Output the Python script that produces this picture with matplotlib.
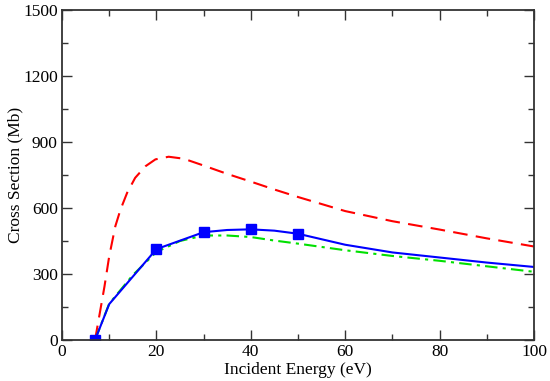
import matplotlib
matplotlib.use("Agg")
import matplotlib.pyplot as plt
from matplotlib.ticker import MultipleLocator

# -------------------------
# Data
# -------------------------
e_blue = [7, 10, 20, 30, 35, 40, 45, 50, 60, 70, 80, 90, 100]
xs_blue = [0, 163, 413, 490, 500, 503, 497, 483, 433, 398, 375, 352, 332]

e_marks = [7, 20, 30, 40, 50]
xs_marks = [0, 413, 490, 503, 483]

e_red = [7, 8, 9, 10, 11.3, 12.4, 13.8, 15.5, 17.7, 19.8, 22.6, 25.8, 30,
         35, 40, 45, 50, 60, 70, 80, 90, 100]
xs_red = [0, 121, 243, 380, 517, 593, 669, 737, 790, 821, 833, 824, 793,
          755, 720, 684, 650, 586, 540, 502, 462, 425]

e_green = [7, 10, 15, 20, 25, 30, 35, 40, 45, 50, 60, 70, 80, 90, 100]
xs_green = [0, 165, 295, 400, 450, 475, 475, 468, 452, 438, 408, 382, 360,
            335, 310]

plt.rcParams['font.family'] = ['Liberation Serif', 'DejaVu Serif']

fig = plt.figure(figsize=(5.5, 3.81), dpi=100)
ax = fig.add_axes([0.1127, 0.1076, 0.8582, 0.8662])

ax.plot(e_red, xs_red, color="#ff0000", lw=1.5, dashes=(7, 4))
ax.plot(e_green, xs_green, color="#00e000", lw=1.5, dashes=(6, 2.5, 1.5, 2.5))
ax.plot(e_blue, xs_blue, color="#0000ff", lw=1.5)
ax.plot(e_marks, xs_marks, ls="none", marker="s", ms=6.5, color="#0000ff")

ax.set_xlim(0, 100)
ax.set_ylim(0, 1500)
ax.xaxis.set_major_locator(MultipleLocator(20))
ax.xaxis.set_minor_locator(MultipleLocator(10))
ax.yaxis.set_major_locator(MultipleLocator(300))
ax.yaxis.set_minor_locator(MultipleLocator(150))
ax.tick_params(which="both", direction="in", top=True, right=True,
               labelsize=12.5, width=1, color="#333333", pad=3)
ax.tick_params(which="major", length=7)
ax.tick_params(which="minor", length=4)
for s in ax.spines.values():
    s.set_linewidth(1.3)
    s.set_color("#333333")

ax.set_xlabel("Incident Energy (eV)", fontsize=12.5, labelpad=1)
ax.set_ylabel("Cross Section (Mb)", fontsize=12.5, labelpad=0)

fig.savefig("out.png", dpi=100)
